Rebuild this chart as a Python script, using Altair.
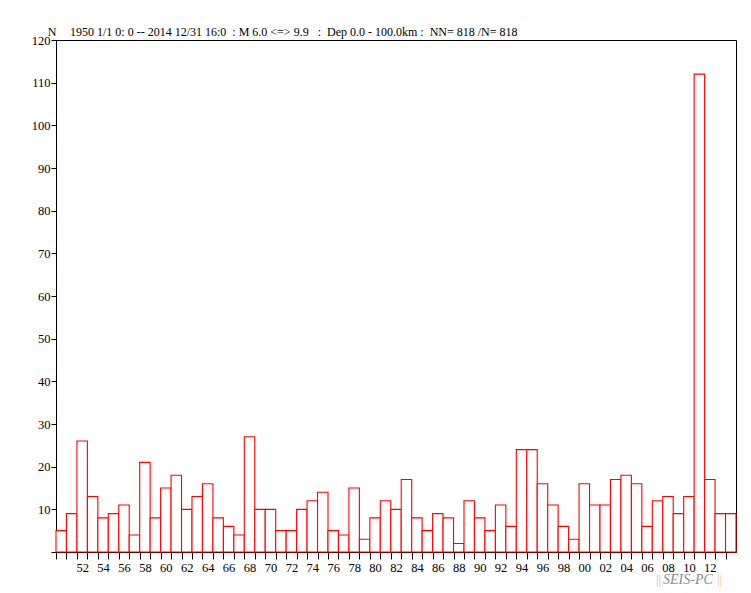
import altair as alt
import pandas as pd

# ---- data ----
years = list(range(1950, 2015))
counts = [5, 9, 26, 13, 8, 9, 11, 4, 21, 8,
          15, 18, 10, 13, 16, 8, 6, 4, 27, 10,
          10, 5, 5, 10, 12, 14, 5, 4, 15, 3,
          8, 12, 10, 17, 8, 5, 9, 8, 2, 12,
          8, 5, 11, 6, 24, 24, 16, 11, 6, 3,
          16, 11, 11, 17, 18, 16, 6, 12, 13, 9,
          13, 112, 17, 9, 9]
x_label_years = [1952, 1954, 1956, 1958, 1960, 1962, 1964, 1966, 1968, 1970,
                 1972, 1974, 1976, 1978, 1980, 1982, 1984, 1986, 1988, 1990,
                 1992, 1994, 1996, 1998, 2000, 2002, 2004, 2006, 2008, 2010, 2012]
y_ticks = [0, 10, 20, 30, 40, 50, 60, 70, 80, 90, 100, 110, 120]
header = "1950 1/1 0: 0 -- 2014 12/31 16:0  : M 6.0 <=> 9.9   :  Dep 0.0 - 100.0km :  NN= 818 /N= 818"
header = header.replace("  ", "\u00a0\u00a0")
y_label = "N"

W, H = 680, 512
FONT = "'Times New Roman', 'Liberation Serif', serif"

df = pd.DataFrame({"year": years, "count": counts})
df["year_end"] = df["year"] + 1

xscale = alt.Scale(domain=[1950, 2015], nice=False, zero=False)
yscale = alt.Scale(domain=[0, 120], nice=False)

label_expr = ("indexof(" + str(x_label_years) + ", datum.value) >= 0 ? "
              "substring(toString(datum.value), 2) : ''")

bars = alt.Chart(df).mark_rect(fill="white", stroke="#ff0000", strokeWidth=1.1).encode(
    x=alt.X("year:Q", scale=xscale,
            axis=alt.Axis(values=years, labelExpr=label_expr, title=None,
                          tickSize=7, tickColor="black", domainColor="black",
                          labelOffset=W / 65 / 2, labelOverlap=False, labelFlush=False,
                          labelBound=False, labelFont=FONT, labelFontSize=12.5,
                          labelColor="black", labelPadding=2, grid=False)),
    x2="year_end:Q",
    y=alt.Y("count:Q", scale=yscale,
            axis=alt.Axis(values=y_ticks, labelExpr="datum.value == 0 ? '' : datum.label",
                          title=None, tickSize=5, tickColor="black", domainColor="black",
                          labelFont=FONT, labelFontSize=12.5, labelColor="black",
                          labelPadding=1, grid=False, labelFlush=False)),
    y2=alt.datum(0),
)

head_n = alt.Chart(pd.DataFrame({"t": [y_label]})).mark_text(
    font=FONT, fontSize=12, color="black", align="center", baseline="middle"
).encode(text="t:N", x=alt.value(-4), y=alt.value(-8))

head = alt.Chart(pd.DataFrame({"t": [header]})).mark_text(
    font=FONT, fontSize=12, color="black", align="left", baseline="middle"
).encode(text="t:N", x=alt.value(14), y=alt.value(-8))

wm1 = alt.Chart(pd.DataFrame({"t": ["||"]})).mark_text(
    font=FONT, fontSize=13, color="#a8b8e8", align="left", baseline="middle"
).encode(text="t:N", x=alt.value(600), y=alt.value(540))
wm2 = alt.Chart(pd.DataFrame({"t": ["SEIS-PC"]})).mark_text(
    font=FONT, fontSize=14, fontStyle="italic", color="#8c8c8c", align="left", baseline="middle"
).encode(text="t:N", x=alt.value(607), y=alt.value(540))
wm3 = alt.Chart(pd.DataFrame({"t": ["||"]})).mark_text(
    font=FONT, fontSize=13, color="#f0c888", align="left", baseline="middle"
).encode(text="t:N", x=alt.value(661), y=alt.value(540))

chart = alt.layer(bars, head_n, head, wm1, wm2, wm3).properties(
    width=W, height=H,
    autosize=alt.AutoSizeParams(type="none"),
    padding={"left": 48, "top": 32, "right": 7, "bottom": 40},
    background="white",
).configure_view(stroke="black", strokeWidth=1)

chart.save("out.html", embed_options={"renderer": "svg", "actions": False})
